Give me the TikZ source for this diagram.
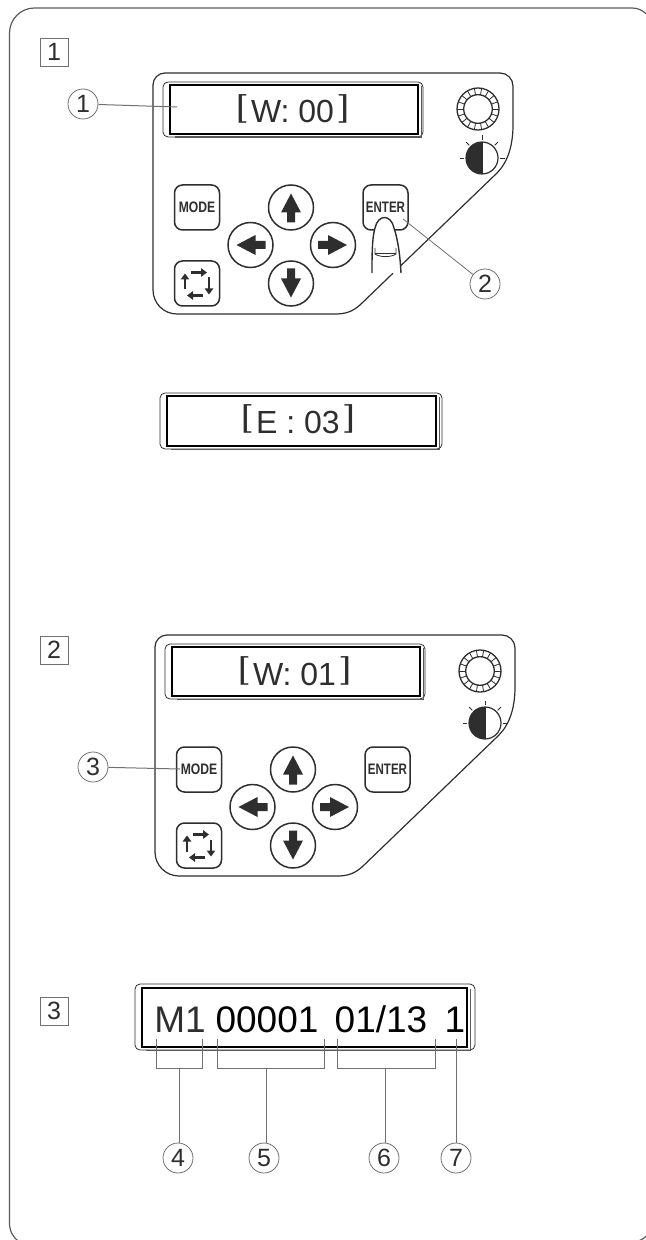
\documentclass[tikz,border=0pt]{standalone}
\usepackage{fontspec}
\usepackage{graphicx}
\setmainfont{Liberation Sans}
\newfontfamily\brk{Poppins Light}
\usetikzlibrary{arrows.meta}
\definecolor{ink}{HTML}{2E2E2E}
\definecolor{lead}{HTML}{707070}
\newcommand{\wb}[1]{\raisebox{0.155em}{\scalebox{1.55}[0.8]{\brk #1}}}
\tikzset{
  x=0.5pt,y=-0.5pt,
  panelline/.style={draw=ink,line width=0.6pt},
  btn/.style={draw=ink,line width=0.75pt,rounded corners=4pt,minimum size=22.5pt,inner sep=0pt,fill=white},
  rbtn/.style={draw=ink,line width=0.75pt,circle,minimum size=22.5pt,inner sep=0pt},
  btntext/.style={font=\bfseries\fontsize{7.6pt}{8pt}\selectfont,text=ink},
  dispouter/.style={draw=ink,line width=0.4pt,rounded corners=2.5pt,inner sep=0pt},
  dispinner/.style={draw=black,line width=1.2pt,inner sep=0pt},
  dispshade/.style={draw=black!65,line width=0.7pt},
  disptext/.style={anchor=base,font=\fontsize{16pt}{18pt}\selectfont,text=ink,inner sep=0pt},
  bigtext/.style={anchor=base,font=\fontsize{18.5pt}{20pt}\selectfont,inner sep=0pt},
  num/.style={draw=lead,line width=0.4pt,circle,minimum size=15pt,inner sep=0pt,font=\fontsize{12.5pt}{13pt}\selectfont,text=ink,fill=white},
  stepno/.style={draw=lead,line width=0.45pt,minimum size=14pt,inner sep=0pt,font=\fontsize{12.5pt}{13pt}\selectfont,text=ink},
  leader/.style={draw=lead,line width=0.5pt},
  bar/.style={draw=lead,line width=0.5pt},
  arrowshape/.style={fill=ink,draw=none},
  loopar/.style={draw=ink,line width=1.1pt,-{Triangle[length=3pt,width=4.2pt]}}
}
% #1 text, #2 x of contrast, #3 y of contrast
\newcommand{\panelart}[3]{%
  \draw[panelline] (153,290) -- (153,85) arc[start angle=180,end angle=270,radius=12] -- (500,73)
    arc[start angle=-90,end angle=0,radius=13] -- (513,125)
    .. controls (513,145) and (508,162) .. (497,173) -- (401,265.5);
  \draw[panelline] (393,273.2) -- (360,305)
    .. controls (352,312) and (345,314) .. (335,314) -- (177,314)
    arc[start angle=90,end angle=180,radius=24];
  \node[dispouter,minimum width=130pt,minimum height=27.5pt] (dout) at (293,109.5) {};
  \node[dispinner,minimum width=124pt,minimum height=24.5pt] (din) at (294,109.5) {};
  \draw[dispshade] ([xshift=1pt,yshift=-1pt]din.north east) -- ([xshift=1pt,yshift=-1pt]din.south east) -- ([xshift=-122pt,yshift=-1pt]din.south east);
  \node[disptext] (dtext) at (292.5,123) {\wb{[}W: #1\wb{]}};
  % knob
  \draw[ink,line width=0.65pt] (478,109) circle[radius=21] circle[radius=14.3];
  \foreach \a in {0,20,...,340}
    \draw[ink,line width=0.4pt] (478,109) ++(\a:14.3 and 14.3) -- ++(\a:6.7 and 6.7);
  % contrast
  \fill[ink] (#2,{#3-16}) arc[start angle=90,end angle=270,radius=8pt] -- cycle;
  \draw[ink,line width=0.6pt] (#2,#3) circle[radius=16];
  \draw[ink,line width=0.6pt] (#2,{#3-16}) -- (#2,{#3+16});
  \foreach \a in {0,45,90,135,180}
    \draw[ink,line width=0.45pt] (#2,#3) ++(\a:18 and -18) -- ++(\a:4.5 and -4.5);
  % buttons
  \node[btn,btntext] (mode) at (197,207.5) {\scalebox{.8}[1]{MODE}};
  \node[btn,btntext] (enter) at (385.5,207.5) {\scalebox{.76}[1]{ENTER}};
  \node[btn] (loop) at (197,283.5) {};
  \draw[loopar] (loop.center) ++(-6,-11) -- ++(16,0);
  \draw[loopar] (loop.center) ++(12,-6) -- ++(0,17);
  \draw[loopar] (loop.center) ++(6,12) -- ++(-16,0);
  \draw[loopar] (loop.center) ++(-12,6) -- ++(0,-16);
  \foreach \n/\cx/\cy/\r in {up/291/207.5/0,lf/250.5/245/90,rt/333/245/-90,dn/291/283.5/180}{
    \node[rbtn] (\n) at (\cx,\cy) {};
    \fill[arrowshape,shift={(\n.center)},rotate=\r]
      (0,-14) -- (10,5) -- (4,5) -- (4,15) -- (-4,15) -- (-4,5) -- (-10,5) -- cycle;
  }
}
\begin{document}
\begin{tikzpicture}
\useasboundingbox (0,0) rectangle (646,1240);
\clip (0,0) rectangle (646,1240);
% frame
\draw[draw=lead!80!black,line width=0.6pt] (9.5,1223) -- (9.5,33) arc[start angle=180,end angle=270,radius=25]
  -- (632,8) arc[start angle=-90,end angle=0,radius=20] -- (652,1222)
  arc[start angle=0,end angle=90,radius=20] -- (40,1248) .. controls (25,1248) and (9.5,1240) .. (9.5,1223);
% step numbers
\node[stepno] (s1) at (54,52) {1};
\node[stepno] (s2) at (54,650) {2};
\node[stepno] (s3) at (54,1011) {3};
% panel 1
\begin{scope}[name prefix=a-]
  \panelart{00}{482}{158}
\end{scope}
% finger
\fill[white] (372,273) .. controls (372,255) and (372,238) .. (375,228) .. controls (378,214) and (391,214) .. (394,228)
  .. controls (398,240) and (400,255) .. (401,273) -- cycle;
\draw[ink,line width=0.7pt] (372,273) .. controls (372,255) and (372,238) .. (375,228) .. controls (378,214) and (391,214) .. (394,228)
  .. controls (398,240) and (400,255) .. (401,273);
\draw[ink,line width=0.4pt] (375,248) -- (375,254) .. controls (380,257.5) and (391,257.5) .. (396,254) -- (396,248);
\draw[ink,line width=0.4pt] (375,253) -- (396,253);
% numbers panel 1
\node[num] (n1) at (83,104) {1};
\coordinate (n1end) at (177,107);
\draw[leader] (n1) -- (n1end);
\node[num] (n2) at (485,284) {2};
\coordinate (n2end) at (403,219);
\draw[leader,line width=0.4pt] (n2) -- (n2end);
% E display
\node[dispouter,minimum width=141pt,minimum height=28pt] (eout) at (301,421) {};
\node[dispinner,minimum width=134.5pt,minimum height=25pt] (ein) at (301.5,421) {};
\draw[dispshade] ([xshift=1pt,yshift=-1pt]ein.north east) -- ([xshift=1pt,yshift=-1pt]ein.south east) -- ([xshift=-133pt,yshift=-1pt]ein.south east);
\node[disptext] (etext) at (298,433) {\wb{[}E : 03\wb{]}};
% panel 2
\begin{scope}[shift={(2,562)},name prefix=b-]
  \panelart{01}{483}{161}
\end{scope}
\coordinate (gapa) at (403,827.5);
\coordinate (gapb) at (395,835.2);
\draw[panelline] (gapa) -- (gapb);
\node[num] (n3) at (93,767) {3};
\coordinate (n3end) at (180,769);
\draw[leader] (n3) -- (n3end);
% display 3
\node[dispouter,minimum width=170pt,minimum height=33pt] (mout) at (305,1017) {};
\node[dispinner,minimum width=162.5pt,minimum height=29.5pt] (min) at (304.5,1017.5) {};
\draw[dispshade] ([xshift=1pt,yshift=-1pt]min.north east) -- ([xshift=1pt,yshift=-1pt]min.south east) -- ([xshift=-161pt,yshift=-1pt]min.south east);
\node[bigtext,text=ink] (m1) at (180,1032) {M1};
\node[bigtext,text=black] (cnt) at (267,1032) {00001};
\node[bigtext,text=black] (date) at (381,1032) {01/13};
\node[bigtext,text=black] (one) at (455,1032) {1};
% brackets and numbers
\node[num] (n4) at (178,1158) {4};
\node[num] (n5) at (264,1158) {5};
\node[num] (n6) at (384,1158) {6};
\node[num] (n7) at (456,1158) {7};
\coordinate (b4l) at (156,1039); \coordinate (b4r) at (202,1039); \coordinate (b4m) at (179,1068);
\coordinate (b5l) at (217,1039); \coordinate (b5r) at (324,1039); \coordinate (b5m) at (266,1068);
\coordinate (b6l) at (337,1039); \coordinate (b6r) at (435,1039); \coordinate (b6m) at (385,1068);
\coordinate (b7t) at (456,1039);
\draw[bar] (b4l) |- (b4m) -| (b4r);
\draw[bar] (b5l) |- (b5m) -| (b5r);
\draw[bar] (b6l) |- (b6m) -| (b6r);
\draw[leader] (b4m) -- (b4m|-n4.north);
\draw[leader] (b5m) -- (b5m|-n5.north);
\draw[leader] (b6m) -- (b6m|-n6.north);
\draw[leader] (b7t) -- (n7);
\end{tikzpicture}
\end{document}
